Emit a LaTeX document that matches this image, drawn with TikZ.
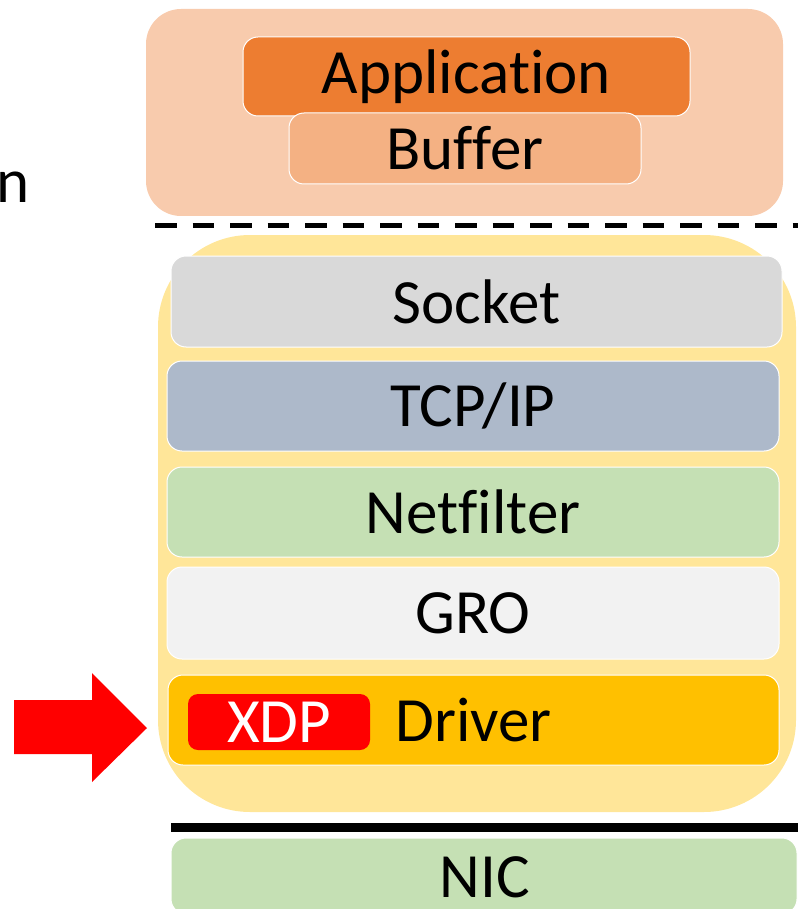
\documentclass[tikz,border=0pt]{standalone}
\usepackage{fontspec}
\setmainfont{Carlito}[Ligatures=NoCommon]
\definecolor{peach}{HTML}{F8CBAD}
\definecolor{appc}{HTML}{ED7D31}
\definecolor{bufc}{HTML}{F4B183}
\definecolor{kernel}{HTML}{FFE699}
\definecolor{sockc}{HTML}{D9D9D9}
\definecolor{tcpc}{HTML}{ADB9CA}
\definecolor{greenc}{HTML}{C5E0B4}
\definecolor{groc}{HTML}{F2F2F2}
\definecolor{drvc}{HTML}{FFC000}
\definecolor{xdpc}{HTML}{FF0000}
\begin{document}
\begin{tikzpicture}[x=1pt,y=-1pt,
  lbl/.style={font=\fontsize{63}{70}\selectfont, text=black},
  region/.style={rectangle, inner sep=0pt, draw=none},
  layer/.style={rectangle, inner sep=0pt, rounded corners=15pt, draw=white, line width=1pt, lbl},
]
\useasboundingbox (0,0) rectangle (798,909);

% user space
\node[region, fill=peach, rounded corners=35pt, minimum width=637pt, minimum height=207pt] (user) at (464.5,112.5) {};
\node[layer, fill=appc, minimum width=447pt, minimum height=79pt] (app) at (466.5,76.5) {Application};
\node[layer, fill=bufc, minimum width=352pt, minimum height=71pt] (buf) at (465,148.5) {Buffer};

% partly cut label on the left
\node[lbl, anchor=base west, inner sep=0pt] (cut) at (-4,203) {n};

% user/kernel boundary
\coordinate (dl) at (155,225.5);
\coordinate (dr) at (798,225.5);
\draw[line width=4.5pt, dash pattern=on 21.5pt off 16pt] (dl) -- (dr);

% kernel stack
\node[region, fill=kernel, rounded corners=92pt, minimum width=638pt, minimum height=577pt] (kern) at (477,523.5) {};
\node[layer, fill=sockc, minimum width=611pt, minimum height=91pt] (sock) at (476.5,301.5) {Socket};
\node[layer, fill=tcpc, minimum width=612pt, minimum height=90pt] (tcp) at (473,406) {TCP/IP};
\node[layer, fill=greenc, minimum width=612pt, minimum height=90pt] (nf) at (473,512) {Netfilter};
\node[layer, fill=groc, minimum width=612pt, minimum height=92pt] (gro) at (473,613) {GRO};
\node[layer, fill=drvc, minimum width=611pt, minimum height=90pt] (drv) at (473.5,720) {Driver};
\node[rectangle, inner sep=0pt, rounded corners=10pt, fill=xdpc, minimum width=182pt, minimum height=56pt, lbl, text=white] (xdp) at (279,722) {XDP};

% hook arrow
\fill[xdpc] (14,700) -- (92,700) -- (92,673) -- (147,728) -- (92,782) -- (92,754) -- (14,754) -- cycle;

% kernel/hardware boundary
\coordinate (sl) at (171,827.5);
\coordinate (sr) at (798,827.5);
\draw[line width=9pt] (sl) -- (sr);

% hardware
\node[layer, fill=greenc, minimum width=626pt, minimum height=76pt] (nic) at (484,876) {};
\node[lbl, anchor=base, inner sep=0pt] (nict) at (485,897) {NIC};
\end{tikzpicture}
\end{document}
